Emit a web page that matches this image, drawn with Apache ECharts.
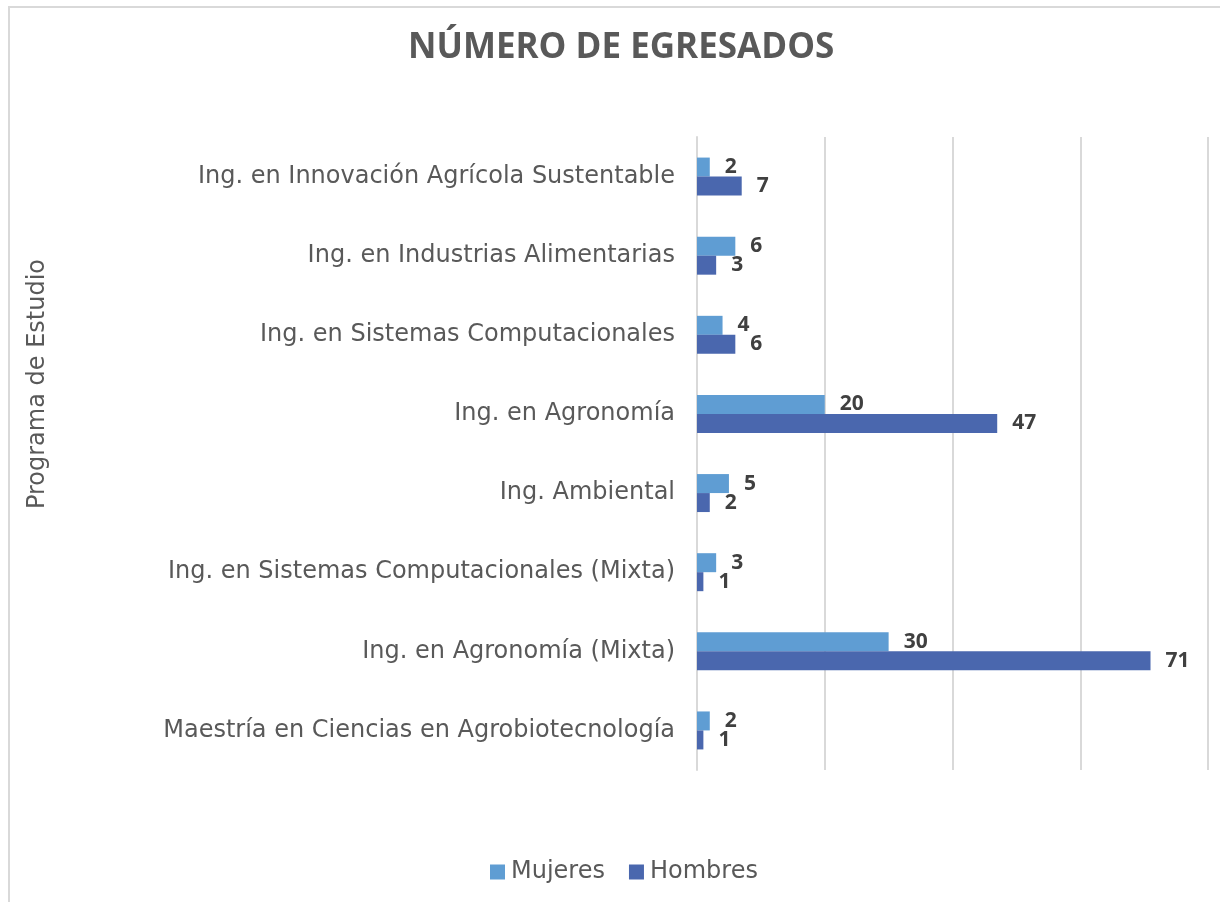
<!DOCTYPE html>
<html>
<head>
<meta charset="utf-8">
<script src="https://cdn.jsdelivr.net/npm/echarts@6/dist/echarts.min.js"></script>
<style>html,body{margin:0;padding:0;background:#fff}#c{width:1220px;height:902px}</style>
</head>
<body>
<div id="c"></div>
<script>
const categories = [
  'Maestría en Ciencias en Agrobiotecnología',
  'Ing. en Agronomía (Mixta)',
  'Ing. en Sistemas Computacionales (Mixta)',
  'Ing. Ambiental',
  'Ing. en Agronomía',
  'Ing. en Sistemas Computacionales',
  'Ing. en Industrias Alimentarias',
  'Ing. en Innovación Agrícola Sustentable'
];
const mujeres = [2, 30, 3, 5, 20, 4, 6, 2];
const hombres = [1, 71, 1, 2, 47, 6, 3, 7];
const xTicks = [0, 20, 40, 60, 80];

const FONT = '"Open Sans", sans-serif';
const WFONT = '"DejaVu Sans", sans-serif';
const chart = echarts.init(document.getElementById('c'), null, {renderer: 'canvas'});
const labelStyle = {show: true, position: 'right', distance: 15, color: '#404040', fontFamily: FONT, fontWeight: 'bold', fontSize: 21};
chart.setOption({
  animation: false,
  backgroundColor: '#fff',
  title: {
    text: 'NÚMERO DE EGRESADOS', left: 403, top: 26,
    textStyle: {color: '#595959', fontFamily: FONT, fontWeight: 'bold', fontSize: 35}
  },
  legend: {
    bottom: 13, left: 485, itemWidth: 15, itemHeight: 15, itemGap: 24,
    icon: 'rect',
    textStyle: {color: '#595959', fontFamily: WFONT, fontSize: 24, padding: [0, 0, 0, 1]},
    data: ['Mujeres', 'Hombres']
  },
  grid: {left: 697, right: 12, top: 137, bottom: 132, containLabel: false},
  xAxis: {
    type: 'value', min: xTicks[0], max: xTicks[xTicks.length - 1], interval: 20,
    axisLabel: {show: false}, axisTick: {show: false}, axisLine: {show: false},
    splitLine: {show: true, lineStyle: {color: '#d9d9d9', width: 2}}
  },
  yAxis: {
    type: 'category', data: categories,
    axisTick: {show: false},
    axisLine: {show: true, lineStyle: {color: '#d9d9d9', width: 2}},
    axisLabel: {color: '#595959', fontFamily: WFONT, fontSize: 24, margin: 22}
  },
  series: [
    {name: 'Mujeres', type: 'bar', data: mujeres, barGap: '0%', barCategoryGap: '52%',
     itemStyle: {color: '#5f9dd3'}, label: labelStyle},
    {name: 'Hombres', type: 'bar', data: hombres, barGap: '0%', barCategoryGap: '52%',
     itemStyle: {color: '#4a67ae'}, label: labelStyle}
  ],
  graphic: [
    {type: 'rect', shape: {x: 9, y: 7, width: 1400, height: 1200}, style: {fill: 'none', stroke: '#d9d9d9', lineWidth: 2}, silent: true, z: -1},
    {type: 'text', x: 38, y: 384, rotation: Math.PI / 2,
     style: {text: 'Programa de Estudio', fill: '#595959', font: '24px "DejaVu Sans", sans-serif', textAlign: 'center', textVerticalAlign: 'middle'}}
  ]
});
</script>
</body>
</html>
